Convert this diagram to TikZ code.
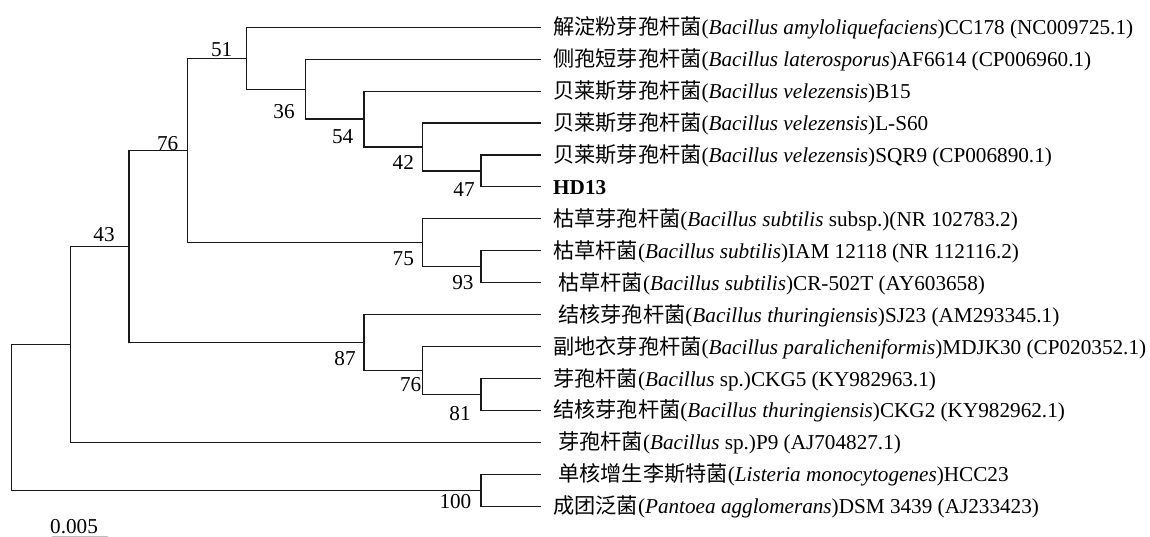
\documentclass[tikz,border=0pt]{standalone}
\usepackage{fontspec}
\setmainfont{Liberation Serif}
\newfontfamily\cjk{Noto Sans CJK SC}
\newcommand{\zh}[1]{{\cjk #1}}
\begin{document}
\begin{tikzpicture}[x=1pt,y=-1pt,
  tree/.style={line width=1.2pt,draw=black!90,line cap=rect,line join=miter},
  leaflabel/.style={anchor=base west,inner sep=0pt,font=\fontsize{21.2}{25}\selectfont},
  boot/.style={anchor=center,inner sep=0pt,font=\fontsize{21.2}{25}\selectfont}]
\useasboundingbox (0,0) rectangle (1150,537);
% leaf tips
\def\tipx{540.7}
\coordinate (L0) at (\tipx,27.3);
\coordinate (L1) at (\tipx,59.3);
\coordinate (L2) at (\tipx,91.2);
\coordinate (L3) at (\tipx,123.1);
\coordinate (L4) at (\tipx,155.0);
\coordinate (L5) at (\tipx,186.9);
\coordinate (L6) at (\tipx,218.9);
\coordinate (L7) at (\tipx,250.8);
\coordinate (L8) at (\tipx,282.7);
\coordinate (L9) at (\tipx,314.6);
\coordinate (L10) at (\tipx,346.6);
\coordinate (L11) at (\tipx,378.5);
\coordinate (L12) at (\tipx,410.4);
\coordinate (L13) at (\tipx,442.3);
\coordinate (L14) at (\tipx,474.2);
\coordinate (L15) at (\tipx,506.1);
% internal nodes
\coordinate (n47) at (481,171.0);
\coordinate (n42) at (422.7,147.0);
\coordinate (n54) at (364,119.1);
\coordinate (n36) at (305.3,89.2);
\coordinate (n51) at (246.7,58.25);
\coordinate (n93) at (481,266.75);
\coordinate (n75) at (422.7,242.8);
\coordinate (n76a) at (187.7,150.5);
\coordinate (n81) at (481,394.45);
\coordinate (n76b) at (422.7,370.5);
\coordinate (n87) at (364,342.55);
\coordinate (n43) at (129,246.5);
\coordinate (nP) at (70.3,344.4);
\coordinate (n100) at (481,490.15);
\coordinate (root) at (11.7,417.3);
% branches
\draw[tree] (n51) |- (L0);
\draw[tree] (n51) |- (n36);
\draw[tree] (n36) |- (L1);
\draw[tree] (n36) |- (n54);
\draw[tree] (n54) |- (L2);
\draw[tree] (n54) |- (n42);
\draw[tree] (n42) |- (L3);
\draw[tree] (n42) |- (n47);
\draw[tree] (n47) |- (L4);
\draw[tree] (n47) |- (L5);
\draw[tree] (n76a) |- (n51);
\draw[tree] (n76a) |- (n75);
\draw[tree] (n75) |- (L6);
\draw[tree] (n75) |- (n93);
\draw[tree] (n93) |- (L7);
\draw[tree] (n93) |- (L8);
\draw[tree] (n43) |- (n76a);
\draw[tree] (n43) |- (n87);
\draw[tree] (n87) |- (L9);
\draw[tree] (n87) |- (n76b);
\draw[tree] (n76b) |- (L10);
\draw[tree] (n76b) |- (n81);
\draw[tree] (n81) |- (L11);
\draw[tree] (n81) |- (L12);
\draw[tree] (nP) |- (n43);
\draw[tree] (nP) |- (L13);
\draw[tree] (root) |- (nP);
\draw[tree] (root) |- (n100);
\draw[tree] (n100) |- (L14);
\draw[tree] (n100) |- (L15);
% bootstrap values
\node[boot] (b51) at (221.7,49.3) {51};
\node[boot] (b76a) at (167.7,143.3) {76};
\node[boot] (b43) at (104,235) {43};
\node[boot] (b36) at (284,111.7) {36};
\node[boot] (b54) at (342.7,136.7) {54};
\node[boot] (b42) at (403.3,162.7) {42};
\node[boot] (b47) at (464,190) {47};
\node[boot] (b75) at (403.3,258.3) {75};
\node[boot] (b93) at (462.9,282.7) {93};
\node[boot] (b87) at (345,358.7) {87};
\node[boot] (b76b) at (410.7,385) {76};
\node[boot] (b81) at (460,413.3) {81};
\node[boot] (b100) at (455.4,501.7) {100};
% leaf labels
\def\off{7.5}
\node[leaflabel] (T0) at (553,27.3+\off) {\zh{解淀粉芽孢杆菌}(\textit{Bacillus amyloliquefaciens})CC178 (NC009725.1)};
\node[leaflabel] (T1) at (553,59.3+\off) {\zh{侧孢短芽孢杆菌}(\textit{Bacillus laterosporus})AF6614 (CP006960.1)};
\node[leaflabel] (T2) at (553,91.2+\off) {\zh{贝莱斯芽孢杆菌}(\textit{Bacillus velezensis})B15};
\node[leaflabel] (T3) at (553,123.1+\off) {\zh{贝莱斯芽孢杆菌}(\textit{Bacillus velezensis})L-S60};
\node[leaflabel] (T4) at (553,155.0+\off) {\zh{贝莱斯芽孢杆菌}(\textit{Bacillus velezensis})SQR9 (CP006890.1)};
\node[leaflabel] (T5) at (553,186.9+\off) {\textbf{HD13}};
\node[leaflabel] (T6) at (553,218.9+\off) {\zh{枯草芽孢杆菌}(\textit{Bacillus subtilis} subsp.)(NR 102783.2)};
\node[leaflabel] (T7) at (553,250.8+\off) {\zh{枯草杆菌}(\textit{Bacillus subtilis})IAM 12118 (NR 112116.2)};
\node[leaflabel] (T8) at (558,282.7+\off) {\zh{枯草杆菌}(\textit{Bacillus subtilis})CR-502T (AY603658)};
\node[leaflabel] (T9) at (558,314.6+\off) {\zh{结核芽孢杆菌}(\textit{Bacillus thuringiensis})SJ23 (AM293345.1)};
\node[leaflabel] (T10) at (553,346.6+\off) {\zh{副地衣芽孢杆菌}(\textit{Bacillus paralicheniformis})MDJK30 (CP020352.1)};
\node[leaflabel] (T11) at (553,378.5+\off) {\zh{芽孢杆菌}(\textit{Bacillus} sp.)CKG5 (KY982963.1)};
\node[leaflabel] (T12) at (553,410.4+\off) {\zh{结核芽孢杆菌}(\textit{Bacillus thuringiensis})CKG2 (KY982962.1)};
\node[leaflabel] (T13) at (558,442.3+\off) {\zh{芽孢杆菌}(\textit{Bacillus} sp.)P9 (AJ704827.1)};
\node[leaflabel] (T14) at (558,474.2+\off) {\zh{单核增生李斯特菌}(\textit{Listeria monocytogenes})HCC23};
\node[leaflabel] (T15) at (553,506.1+\off) {\zh{成团泛菌}(\textit{Pantoea agglomerans})DSM 3439 (AJ233423)};
% scale bar
\node[boot] (scl) at (74,526.3) {0.005};
\coordinate (sbL) at (51.7,536.3);
\coordinate (sbR) at (107.7,536.3);
\draw[line width=1.1pt,draw=black!25] (sbL) -- (sbR);
\end{tikzpicture}
\end{document}
